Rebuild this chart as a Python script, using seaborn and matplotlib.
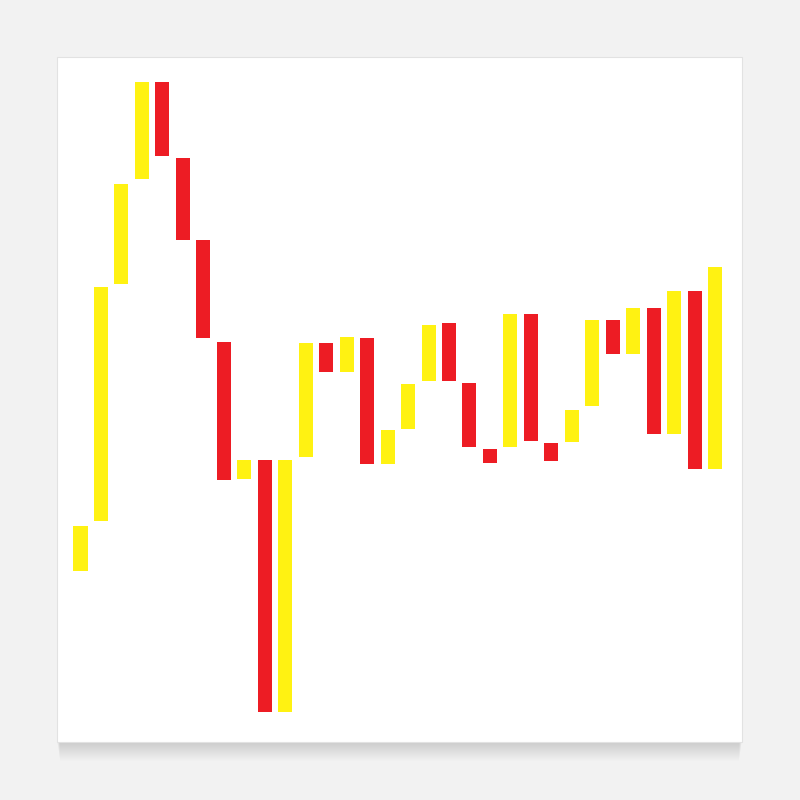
import numpy as np
import pandas as pd
import seaborn as sns
import matplotlib
matplotlib.use("Agg")
import matplotlib.pyplot as plt
from matplotlib.patches import Rectangle

# floating bars: low and high value of each bar, and which colour
lows = [22.4, 30.3, 67.9, 84.6, 88.3, 75.0, 59.3, 36.9, 37.0, 0.0, 0.0,
        40.5, 54.0, 54.0, 39.4, 39.4, 45.0, 52.5, 52.5, 42.1, 39.6, 42.1,
        43.0, 39.9, 42.8, 48.6, 56.8, 56.8, 44.1, 44.1, 38.6, 38.6]
highs = [29.6, 67.5, 83.8, 100.0, 100.0, 87.9, 74.9, 58.7, 40.0, 40.0, 40.0,
         58.5, 58.5, 59.5, 59.4, 44.7, 52.0, 61.5, 61.7, 52.2, 41.7, 63.2,
         63.2, 42.7, 47.9, 62.2, 62.2, 64.1, 64.1, 66.9, 66.9, 70.6]
kind = ['y', 'y', 'y', 'y', 'r', 'r', 'r', 'r', 'y', 'r', 'y',
        'y', 'r', 'y', 'r', 'y', 'y', 'y', 'r', 'r', 'r', 'y',
        'r', 'r', 'y', 'y', 'r', 'y', 'r', 'y', 'r', 'y']

palette = {'y': '#fff212', 'r': '#ed1c24'}

df = pd.DataFrame({'bar': np.arange(len(lows)),
                   'low': lows,
                   'high': highs,
                   'kind': kind})
df['height'] = df['high'] - df['low']

fig = plt.figure(figsize=(8, 8), dpi=100)
fig.patch.set_facecolor('#f2f2f2')

# soft shadow under the white panel
for i in range(1, 20):
    fig.patches.append(Rectangle(((57 + i * 0.15) / 800, (58 - i) / 800),
                                 (685 - i * 0.3) / 800, 685 / 800,
                                 transform=fig.transFigure,
                                 facecolor='black', edgecolor='none',
                                 alpha=0.007, zorder=-2))
fig.patches.append(Rectangle((57 / 800, 58 / 800), 685 / 800, 685 / 800,
                             transform=fig.transFigure,
                             facecolor='white', edgecolor='#e2e2e2',
                             linewidth=0.8, zorder=-1))

ax = fig.add_axes([58 / 800, 58 / 800, 684 / 800, 685 / 800])
ax.patch.set_alpha(0)

sns.barplot(ax=ax, data=df, x='bar', y='height', bottom=df['low'].values,
            width=0.684, saturation=1, linewidth=0, color='#ed1c24')

for patch, k in zip(ax.patches, df['kind']):
    patch.set_facecolor(palette[k])

ax.set_xlim(-1.099, 32.31)
ax.set_ylim(-4.76, 103.97)
ax.axis('off')

plt.savefig('out.png', dpi=100, facecolor=fig.get_facecolor())
